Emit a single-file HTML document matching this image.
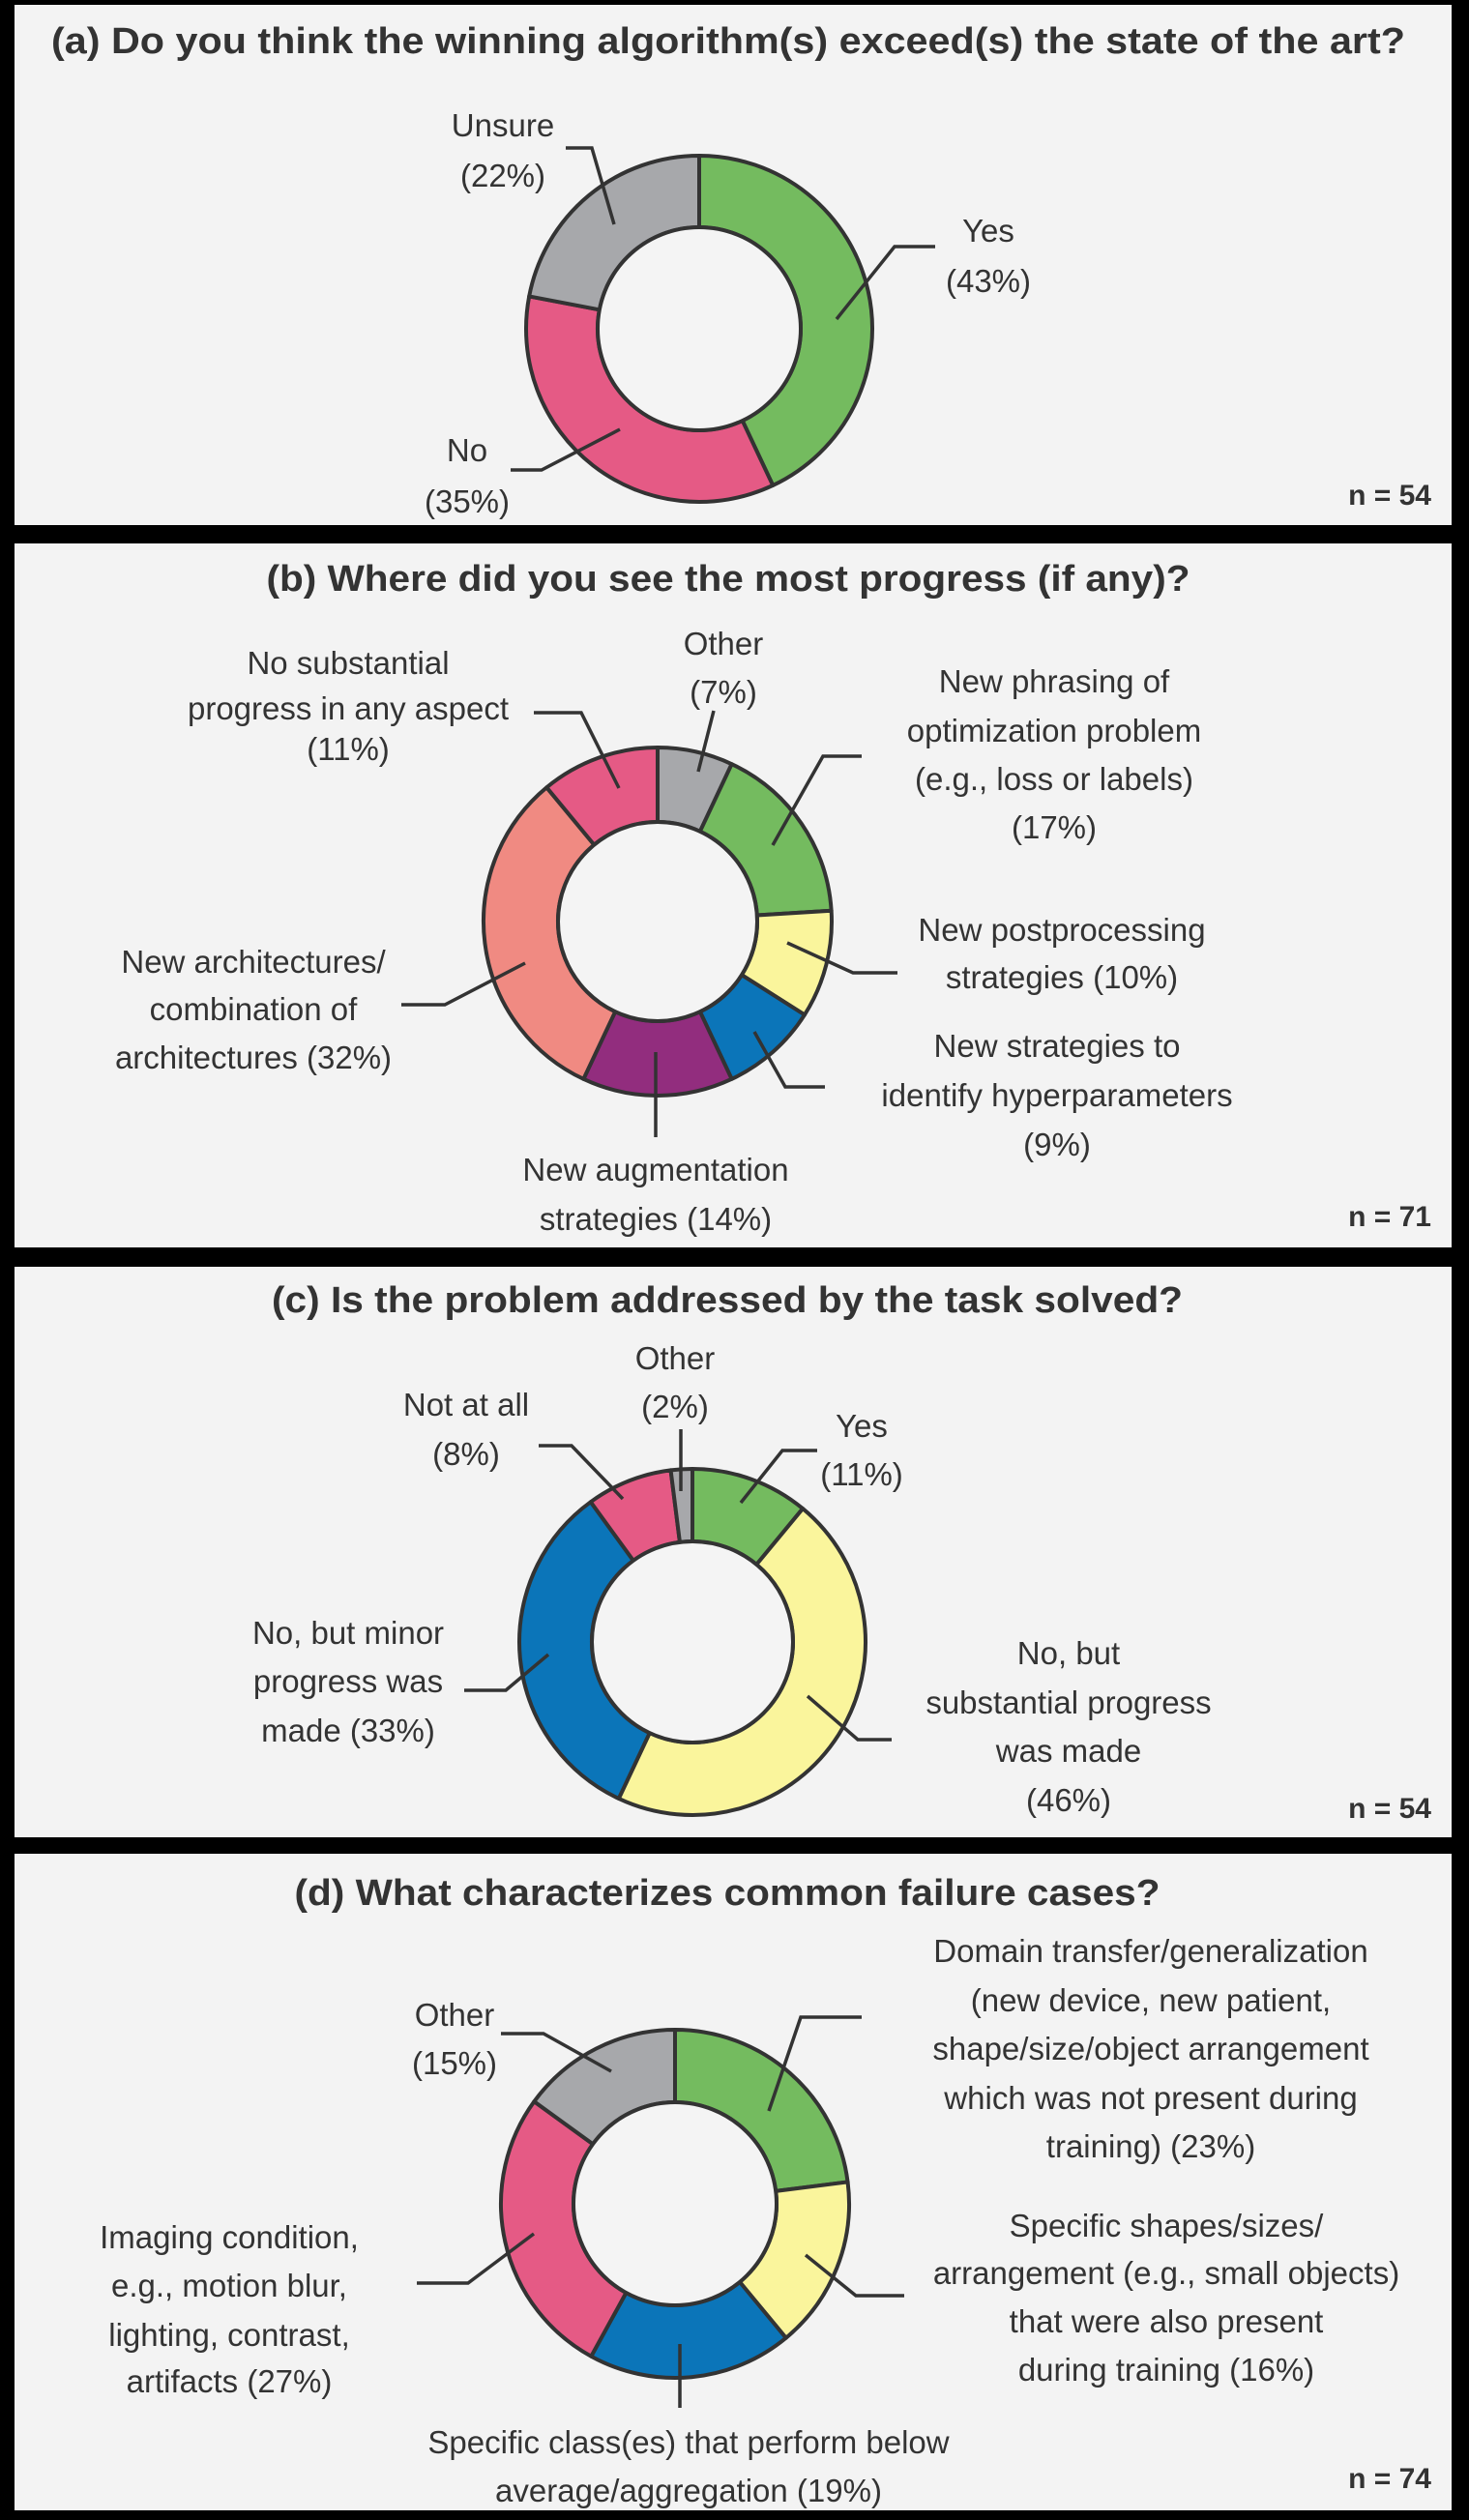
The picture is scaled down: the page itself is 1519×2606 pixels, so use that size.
<!DOCTYPE html>
<html><head><meta charset="utf-8"><style>
html,body{margin:0;padding:0;background:#000;}
svg{display:block;}
text{font-family:"Liberation Sans",sans-serif;fill:#333;}
</style></head><body>
<svg id="fig" width="1519" height="2606" viewBox="0 0 1519 2606" xmlns="http://www.w3.org/2000/svg">
<rect x="0" y="0" width="1519" height="2606" fill="#000"/>
</svg>
<script>
// ---- Chart data ----
const aCategories = ["Yes","No","Unsure"];
const aValues = [43,35,22];
const bCategories = ["Other","New phrasing of optimization problem","New postprocessing strategies","New strategies to identify hyperparameters","New augmentation strategies","New architectures/combination of architectures","No substantial progress in any aspect"];
const bValues = [7,17,10,9,14,32,11];
const cCategories = ["Yes","No, but substantial progress was made","No, but minor progress was made","Not at all","Other"];
const cValues = [11,46,33,8,2];
const dCategories = ["Domain transfer/generalization","Specific shapes/sizes/arrangement","Specific class(es)","Imaging condition","Other"];
const dValues = [23,16,19,27,15];
const nValues = [54,71,54,74];

const COL = {green:"#74bb5f",pink:"#e55a85",gray:"#a7a8ab",yellow:"#faf59c",blue:"#0b75b9",purple:"#922d7e",salmon:"#f08a82"};
const NS = "http://www.w3.org/2000/svg";
const svg = document.getElementById("fig");

function mk(tag, attrs, parent){
  const e = document.createElementNS(NS, tag);
  for (const k in attrs) e.setAttribute(k, attrs[k]);
  (parent||svg).appendChild(e);
  return e;
}
function angle(frac){ return frac*2*Math.PI; }
function pt(cx,cy,r,a){ return [cx + r*Math.sin(a), cy - r*Math.cos(a)]; }

const panels = [
 {key:"a", y:5, h:538, title:"(a) Do you think the winning algorithm(s) exceed(s) the state of the art?", tx:753, ty:55, tl:1400,
  cx:723, cy:340, R:179, r:105, values:aValues, cats:aCategories, colors:[COL.green,COL.pink,COL.gray], nY:522,
  labels:[
   {lines:["Yes","(43%)"], x:1022, ys:[250,302], leader:[[967,255],[925,255],[865,330]]},
   {lines:["No","(35%)"], x:483, ys:[477,530], leader:[[528,486],[560,486],[641,444]]},
   {lines:["Unsure","(22%)"], x:520, ys:[141,193], leader:[[585,153],[612,153],[635,232]]}
  ]},
 {key:"b", y:562, h:728, title:"(b) Where did you see the most progress (if any)?", tx:753, ty:611, tl:955,
  cx:680, cy:953, R:180, r:103, values:bValues, cats:bCategories, colors:[COL.gray,COL.green,COL.yellow,COL.blue,COL.purple,COL.salmon,COL.pink], nY:1268,
  labels:[
   {lines:["Other","(7%)"], x:748, ys:[677,727], leader:[[738,735],[722,798]]},
   {lines:["New phrasing of","optimization problem","(e.g., loss or labels)","(17%)"], x:1090, ys:[716,767,817,867], leader:[[891,782],[851,782],[799,874]]},
   {lines:["New postprocessing","strategies (10%)"], x:1098, ys:[973,1022], leader:[[928,1006],[882,1006],[814,975]]},
   {lines:["New strategies to","identify hyperparameters","(9%)"], x:1093, ys:[1093,1144,1195], leader:[[853,1124],[812,1124],[780,1067]]},
   {lines:["New augmentation","strategies (14%)"], x:678, ys:[1221,1272], leader:[[678,1088],[678,1176]]},
   {lines:["New architectures/","combination of","architectures (32%)"], x:262, ys:[1006,1055,1105], leader:[[415,1039],[460,1039],[543,996]]},
   {lines:["No substantial","progress in any aspect","(11%)"], x:360, ys:[697,744,786], leader:[[552,737],[601,737],[640,815]]}
  ]},
 {key:"c", y:1310, h:590, title:"(c) Is the problem addressed by the task solved?", tx:752, ty:1357, tl:942,
  cx:716, cy:1698, R:179, r:104, values:cValues, cats:cCategories, colors:[COL.green,COL.yellow,COL.blue,COL.pink,COL.gray], nY:1880,
  labels:[
   {lines:["Yes","(11%)"], x:891, ys:[1486,1536], leader:[[845,1500],[809,1500],[766,1554]]},
   {lines:["No, but","substantial progress","was made","(46%)"], x:1105, ys:[1721,1772,1822,1873], leader:[[922,1799],[887,1799],[835,1754]]},
   {lines:["No, but minor","progress was","made (33%)"], x:360, ys:[1700,1750,1801], leader:[[480,1748],[523,1748],[567,1711]]},
   {lines:["Not at all","(8%)"], x:482, ys:[1464,1515], leader:[[557,1495],[591,1495],[644,1550]]},
   {lines:["Other","(2%)"], x:698, ys:[1416,1466], leader:[[704,1478],[704,1542]]}
  ]},
 {key:"d", y:1917, h:679, title:"(d) What characterizes common failure cases?", tx:752, ty:1970, tl:895,
  cx:698, cy:2279, R:180, r:105, values:dValues, cats:dCategories, colors:[COL.green,COL.yellow,COL.blue,COL.pink,COL.gray], nY:2573,
  labels:[
   {lines:["Domain transfer/generalization","(new device, new patient,","shape/size/object arrangement","which was not present during","training) (23%)"], x:1190, ys:[2029,2080,2130,2181,2231], leader:[[891,2086],[828,2086],[795,2183]]},
   {lines:["Specific shapes/sizes/","arrangement (e.g., small objects)","that were also present","during training (16%)"], x:1206, ys:[2313,2362,2412,2462], leader:[[935,2374],[885,2374],[833,2332]]},
   {lines:["Specific class(es) that perform below","average/aggregation (19%)"], x:712, ys:[2537,2587], leader:[[703,2424],[703,2490]]},
   {lines:["Imaging condition,","e.g., motion blur,","lighting, contrast,","artifacts (27%)"], x:237, ys:[2325,2375,2426,2474], leader:[[431,2361],[484,2361],[552,2310]]},
   {lines:["Other","(15%)"], x:470, ys:[2095,2145], leader:[[518,2103],[562,2103],[632,2142]]}
  ]}
];

panels.forEach((p, pi) => {
  const g = mk("g", {});
  
  
  const bg = mk("rect", {x:15, y:p.y, width:1486, height:p.h, fill:"#f3f3f3"}, g);
  
  
  const t = mk("text", {x:p.tx, y:p.ty, "text-anchor":"middle", "font-size":38, "font-weight":"bold", textLength:p.tl, lengthAdjust:"spacingAndGlyphs"}, g);
  t.textContent = p.title;
  
  

  const total = p.values.reduce((s,v)=>s+v,0);
  let acc = 0;
  p.values.forEach((v, i) => {
    const a0 = angle(acc/total), a1 = angle((acc+v)/total);
    acc += v;
    const large = (a1-a0) > Math.PI ? 1 : 0;
    const [x0,y0] = pt(p.cx,p.cy,p.R,a0), [x1,y1] = pt(p.cx,p.cy,p.R,a1);
    const [x2,y2] = pt(p.cx,p.cy,p.r,a1), [x3,y3] = pt(p.cx,p.cy,p.r,a0);
    const d = `M${x0},${y0} A${p.R},${p.R} 0 ${large} 1 ${x1},${y1} L${x2},${y2} A${p.r},${p.r} 0 ${large} 0 ${x3},${y3} Z`;
    const s = mk("path", {d:d, fill:p.colors[i], stroke:"#333", "stroke-width":4, "stroke-linejoin":"round"}, g);
    
    
  });
  const hole = mk("circle", {cx:p.cx, cy:p.cy, r:p.r, fill:"#f4f4f4", stroke:"#333", "stroke-width":4}, g);
  
  

  p.labels.forEach((L, li) => {
    const lt = mk("text", {"text-anchor":"middle", "font-size":33}, g);
    
    
    L.lines.forEach((ln, k) => {
      const ts = mk("tspan", {x:L.x, y:L.ys[k]}, lt);
      ts.textContent = ln;
    });
    const pl = mk("polyline", {points:L.leader.map(q=>q.join(",")).join(" "), fill:"none", stroke:"#333", "stroke-width":3.5}, g);
    
    
  });

  const n = mk("text", {x:1480, y:p.nY, "text-anchor":"end", "font-size":30, "font-weight":"bold"}, g);
  n.textContent = "n = " + nValues[pi];
  
  
});
</script>
</body></html>
